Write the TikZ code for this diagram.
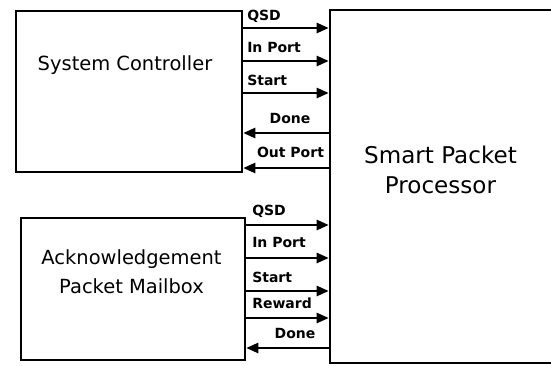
\documentclass[tikz,border=0pt]{standalone}
\usepackage{fontspec}
\setmainfont{DejaVu Sans}
\usetikzlibrary{arrows.meta}
\begin{document}
\begin{tikzpicture}[x=0.75pt,y=-0.75pt,
  box/.style={draw, line width=1.9pt, rectangle, inner sep=0pt},
  sig/.style={line width=1.8pt, -{Triangle[length=9pt,width=7.5pt]}},
  lbl/.style={font=\fontsize{10.5}{12}\selectfont\bfseries, inner sep=0pt},
  big/.style={font=\fontsize{14.6}{21.75}\selectfont, align=center, inner sep=0pt},
  huge/.style={font=\fontsize{17.3}{22.5}\selectfont, align=center, inner sep=0pt},
]
\clip (0,0) rectangle (551,365);
\fill[white] (0,0) rectangle (551,365);
% boxes
\node[box, minimum width=169.5pt, minimum height=120.75pt] (sc) at (129,91.5) {};
\node[box, minimum width=168pt, minimum height=106.5pt] (ack) at (133,289) {};
\node[box, minimum width=202.5pt, minimum height=264.75pt] (spp) at (465,186.5) {};
% box texts
\node[big] (sctext) at (125,65) {System Controller};
\node[big] (acktext) at (131.5,272) {Acknowledgement\\Packet Mailbox};
\node[huge] (spptext) at (440.5,170) {Smart Packet\\Processor};
% row coordinates
\coordinate (r1) at (0,28);
\coordinate (r2) at (0,61);
\coordinate (r3) at (0,93);
\coordinate (r4) at (0,133);
\coordinate (r5) at (0,168);
\coordinate (r6) at (0,225);
\coordinate (r7) at (0,258);
\coordinate (r8) at (0,291);
\coordinate (r9) at (0,318);
\coordinate (r10) at (0,348);
% top group
\draw[sig] (sc.east |- r1) -- (spp.west |- r1);
\draw[sig] (sc.east |- r2) -- (spp.west |- r2);
\draw[sig] (sc.east |- r3) -- (spp.west |- r3);
\draw[sig] (spp.west |- r4) -- (sc.east |- r4);
\draw[sig] (spp.west |- r5) -- (sc.east |- r5);
% bottom group
\draw[sig] (ack.east |- r6) -- (spp.west |- r6);
\draw[sig] (ack.east |- r7) -- (spp.west |- r7);
\draw[sig] (ack.east |- r8) -- (spp.west |- r8);
\draw[sig] (ack.east |- r9) -- (spp.west |- r9);
\draw[sig] (spp.west |- r10) -- (ack.east |- r10);
% signal labels
\node[lbl, anchor=base west] (l1) at (247,20) {QSD};
\node[lbl, anchor=base west] (l2) at (247,52) {In Port};
\node[lbl, anchor=base west] (l3) at (247,85) {Start};
\node[lbl, anchor=base] (l4) at (290,123) {Done};
\node[lbl, anchor=base] (l5) at (290.5,157) {Out Port};
\node[lbl, anchor=base west] (l6) at (252,215) {QSD};
\node[lbl, anchor=base west] (l7) at (252,247) {In Port};
\node[lbl, anchor=base west] (l8) at (252,282) {Start};
\node[lbl, anchor=base west] (l9) at (252,308) {Reward};
\node[lbl, anchor=base] (l10) at (295,338) {Done};
\end{tikzpicture}
\end{document}
